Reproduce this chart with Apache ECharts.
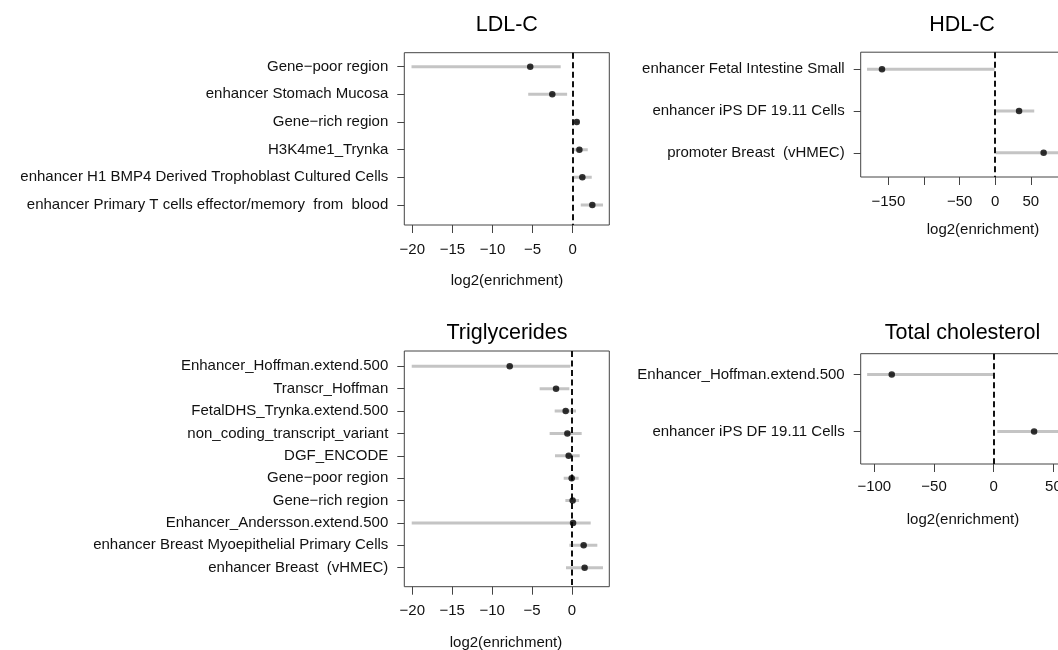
<!DOCTYPE html>
<html>
<head>
<meta charset="utf-8">
<script src="https://cdn.jsdelivr.net/npm/echarts@6/dist/echarts.min.js"></script>
<style>
  html, body { margin: 0; padding: 0; background: #fff; overflow: hidden; width: 1058px; height: 650px; }
  #chart { width: 1080px; height: 650px; }
</style>
</head>
<body>
<div id="chart"></div>
<script>
// ---------- data ----------
const ldlCategories = ["Gene\u2212poor region", "enhancer Stomach Mucosa", "Gene\u2212rich region", "H3K4me1_Trynka",
  "enhancer H1 BMP4 Derived Trophoblast Cultured Cells", "enhancer Primary T cells effector/memory  from  blood"];
const ldlEstimate = [-5.3, -2.55, 0.5, 0.83, 1.2, 2.44];
const ldlLower = [-20.1, -5.55, 0.2, 0.1, 0.1, 1.0];
const ldlUpper = [-1.5, -0.7, 0.8, 1.87, 2.37, 3.78];

const hdlCategories = ["enhancer Fetal Intestine Small", "enhancer iPS DF 19.11 Cells", "promoter Breast  (vHMEC)"];
const hdlEstimate = [-159, 33.5, 68];
const hdlLower = [-180, 1, 1];
const hdlUpper = [-0.8, 54.8, 110];

const trigCategories = ["Enhancer_Hoffman.extend.500", "Transcr_Hoffman", "FetalDHS_Trynka.extend.500",
  "non_coding_transcript_variant", "DGF_ENCODE", "Gene\u2212poor region", "Gene\u2212rich region",
  "Enhancer_Andersson.extend.500", "enhancer Breast Myoepithelial Primary Cells", "enhancer Breast  (vHMEC)"];
const trigEstimate = [-7.8, -2.0, -0.79, -0.58, -0.42, -0.04, 0.08, 0.13, 1.46, 1.58];
const trigLower = [-20.07, -4.05, -2.17, -2.8, -2.13, -1.04, -0.83, -20.07, -0.33, -0.75];
const trigUpper = [-0.2, -0.33, 0.5, 1.21, 0.96, 0.83, 0.88, 2.34, 3.17, 3.88];

const tcCategories = ["Enhancer_Hoffman.extend.500", "enhancer iPS DF 19.11 Cells"];
const tcEstimate = [-85.4, 33.8];
const tcLower = [-106, 3];
const tcUpper = [-0.6, 75];

const ldlTicks = [-20, -15, -10, -5, 0];
const ldlTickLabels = [-20, -15, -10, -5, 0];
const trigTicks = [-20, -15, -10, -5, 0];
const trigTickLabels = [-20, -15, -10, -5, 0];
const hdlTicks = [-150, -100, -50, 0, 50];
const hdlTickLabels = [-150, -50, 0, 50];
const tcTicks = [-100, -50, 0, 50];
const tcTickLabels = [-100, -50, 0, 50];

const titles = ["LDL-C", "HDL-C", "Triglycerides", "Total cholesterol"];
const xLabel = "log2(enrichment)";

// ---------- layout ----------
const FONT = '"Liberation Sans", Arial, Helvetica, sans-serif';
const panels = [
  { cats: ldlCategories, est: ldlEstimate, lo: ldlLower, hi: ldlUpper, ticks: ldlTicks, labels: ldlTickLabels,
    grid: { left: 404.3, top: 52.7, width: 205, height: 172.3 }, xmin: -21.0, xmax: 4.56, ymin: -0.506, ymax: 5.723,
    xMargin: 17, yMargin: 16, title: [506.8, 25], xlab: [507, 281] },
  { cats: hdlCategories, est: hdlEstimate, lo: hdlLower, hi: hdlUpper, ticks: hdlTicks, labels: hdlTickLabels,
    grid: { left: 860.7, top: 52.2, width: 202.3, height: 124.8 }, xmin: -188.9, xmax: 95.2, ymin: -0.41, ymax: 2.58,
    xMargin: 17, yMargin: 16, title: [962, 25], xlab: [983, 229.5] },
  { cats: trigCategories, est: trigEstimate, lo: trigLower, hi: trigUpper, ticks: trigTicks, labels: trigTickLabels,
    grid: { left: 404.3, top: 351, width: 205, height: 235.7 }, xmin: -21.0, xmax: 4.67, ymin: -0.684, ymax: 9.849,
    xMargin: 17, yMargin: 16, title: [507, 333.3], xlab: [506, 642.5] },
  { cats: tcCategories, est: tcEstimate, lo: tcLower, hi: tcUpper, ticks: tcTicks, labels: tcTickLabels,
    grid: { left: 860.7, top: 353.7, width: 202.3, height: 110.3 }, xmin: -111.4, xmax: 58.0, ymin: -0.367, ymax: 1.568,
    xMargin: 15.5, yMargin: 16, title: [962.5, 333.3], xlab: [963, 520] }
];

const grids = [], xAxes = [], yAxes = [], series = [], graphics = [];
panels.forEach((p, i) => {
  grids.push(Object.assign({ show: true, borderColor: '#444', borderWidth: 1, backgroundColor: 'transparent' }, p.grid));
  xAxes.push({
    type: 'value', gridIndex: i, min: p.xmin, max: p.xmax, position: 'bottom',
    axisLine: { show: false, onZero: false },
    splitLine: { show: false },
    axisTick: { show: true, inside: false, length: 8, lineStyle: { color: '#444', width: 1 }, customValues: p.ticks },
    axisLabel: { show: true, margin: p.xMargin, customValues: p.labels, color: '#111', fontFamily: FONT, fontSize: 15,
      lineHeight: 15, formatter: v => String(v).replace('-', '\u2212') }
  });
  const idx = p.cats.map((c, k) => k);
  yAxes.push({
    type: 'value', gridIndex: i, inverse: true, min: p.ymin, max: p.ymax, position: 'left',
    axisLine: { show: false, onZero: false },
    splitLine: { show: false },
    axisTick: { show: true, inside: false, length: 7, lineStyle: { color: '#444', width: 1 }, customValues: idx },
    axisLabel: { show: true, margin: p.yMargin, customValues: idx, color: '#111', fontFamily: FONT, fontSize: 15,
      formatter: v => p.cats[Math.round(v)] }
  });
  series.push({
    type: 'custom', xAxisIndex: i, yAxisIndex: i, z: 1, clip: true, silent: true,
    data: p.cats.map((c, k) => [p.lo[k], p.hi[k], k]),
    encode: { x: [0, 1], y: 2 },
    renderItem: (params, api) => {
      const a = api.coord([api.value(0), api.value(2)]);
      const b = api.coord([api.value(1), api.value(2)]);
      return { type: 'line', shape: { x1: a[0], y1: a[1], x2: b[0], y2: b[1] },
        style: { stroke: '#c4c4c4', lineWidth: 3 } };
    },
    markLine: {
      silent: true, symbol: ['none', 'none'], label: { show: false }, animation: false, z: 2,
      lineStyle: { color: '#111', width: 2, type: [6, 3.5] },
      data: [{ xAxis: 0 }]
    }
  });
  series.push({
    type: 'scatter', xAxisIndex: i, yAxisIndex: i, z: 3, silent: true,
    symbol: 'circle', symbolSize: 6.5, itemStyle: { color: '#000' },
    data: p.est.map((v, k) => [v, k])
  });
  graphics.push({ type: 'text', x: p.title[0], y: p.title[1], silent: true,
    style: { text: titles[i], font: '21.5px ' + FONT, fill: '#000', textAlign: 'center', textVerticalAlign: 'middle' } });
  graphics.push({ type: 'text', x: p.xlab[0], y: p.xlab[1], silent: true,
    style: { text: xLabel, font: '15px ' + FONT, fill: '#111', textAlign: 'center', textVerticalAlign: 'middle' } });
});

const chart = echarts.init(document.getElementById('chart'), null, { renderer: 'canvas' });
chart.setOption({
  animation: false,
  backgroundColor: '#fff',
  grid: grids,
  xAxis: xAxes,
  yAxis: yAxes,
  series: series,
  graphic: graphics
});
</script>
</body>
</html>
